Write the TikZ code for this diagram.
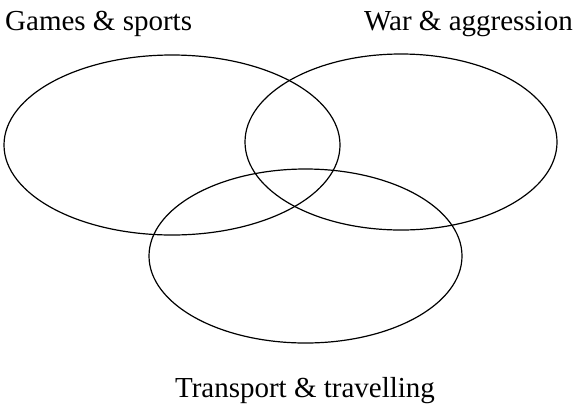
\documentclass[tikz,border=0pt]{standalone}
\usepackage{fontspec}
\setmainfont{Liberation Serif}
\usepackage{tikz}

\tikzset{
  setring/.style={draw, line width=1.2pt},
  setlabel/.style={inner sep=0pt, font=\fontsize{29}{34}\selectfont}
}

\begin{document}
\begin{tikzpicture}[x=1pt,y=1pt,yscale=-1,xscale=1]
\useasboundingbox (0,0) rectangle (585,408);

%Shape: Ellipse [games]
\draw [setring] (172,145) ellipse [x radius=168, y radius=90];
%Shape: Ellipse [war]
\draw [setring] (401,142) ellipse [x radius=156, y radius=88];
%Shape: Ellipse [transport]
\draw [setring] (305.5,256) ellipse [x radius=156.5, y radius=87];

% Text Node
\node (games) [setlabel, anchor=base west] at (5,30) {Games \& sports};
% Text Node
\node (war) [setlabel, anchor=base east] at (573,30) {War \& aggression};
% Text Node
\node (transport) [setlabel, anchor=base] at (305,397) {Transport \& travelling};

\end{tikzpicture}
\end{document}
